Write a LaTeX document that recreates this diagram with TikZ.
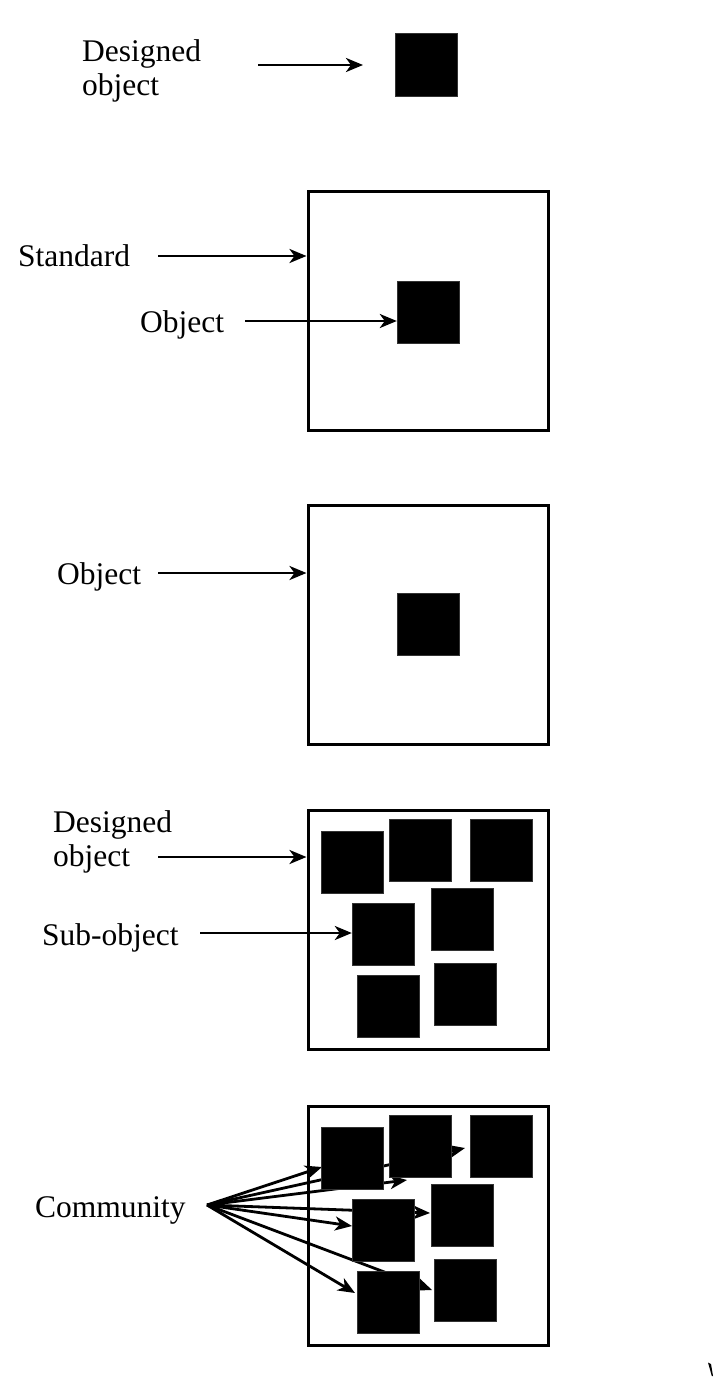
\documentclass[tikz,border=0pt]{standalone}
\usepackage{fontspec}
\setmainfont{Liberation Serif}
\usetikzlibrary{arrows.meta,backgrounds}
\begin{document}
\begin{tikzpicture}[x=1pt,y=-1pt,
  lbl/.style={inner sep=0pt, font=\fontsize{31.5}{34}\selectfont, anchor=base west},
  lbltwo/.style={inner sep=0pt, font=\fontsize{31.5}{34}\selectfont, align=left, anchor=north west},
  frame/.style={draw, line width=3pt, minimum width=240pt, minimum height=239pt, inner sep=0pt},
  sq/.style={fill=black, draw=black!80, line width=0.4pt, minimum width=62pt, minimum height=62pt, inner sep=0pt},
  arr/.style={line width=2.8pt, -{Stealth[length=17pt,width=14pt,inset=5pt]}}]
\useasboundingbox (0,0) rectangle (713,1378);

% --- designed object on its own
\node[lbltwo] (l1) at (82,39.5) {Designed\\object};
\node[sq, minimum height=63pt] (s1) at (426,64.5) {};
\coordinate (a1) at (258,65);
\coordinate (t1) at (363,65);
\draw[arr] (a1) -- (t1);

% --- standard around an object
\node[frame] (f2) at (428,311) {};
\node[sq] (s2) at (428,312) {};
\node[lbl] (l2a) at (18,266) {Standard};
\node[lbl] (l2b) at (140,332) {Object};
\coordinate (a2a) at (158,256);
\coordinate (a2b) at (245,321);
\draw[arr] (a2a) -- (a2a -| f2.west);
\draw[arr] (a2b) -- (a2b -| s2.west);

% --- object seen as a whole
\node[frame] (f3) at (428,624.5) {};
\node[sq] (s3) at (428,624) {};
\node[lbl] (l3) at (57,584) {Object};
\coordinate (a3) at (158,573);
\draw[arr] (a3) -- (a3 -| f3.west);

% --- designed object made of sub-objects
\node[frame] (f4) at (428,929.5) {};
\node[sq] (A4) at (352,862) {};
\node[sq] (B4) at (420.5,850.5) {};
\node[sq] (C4) at (501,850.5) {};
\node[sq] (D4) at (462.5,919.5) {};
\node[sq] (E4) at (383,934.5) {};
\node[sq] (F4) at (465.5,994) {};
\node[sq] (G4) at (388,1006) {};
\node[lbltwo] (l4a) at (53,810.5) {Designed\\object};
\node[lbl] (l4b) at (42,945) {Sub-object};
\coordinate (a4a) at (158,857);
\coordinate (a4b) at (200,933);
\draw[arr] (a4a) -- (a4a -| f4.west);
\draw[arr] (a4b) -- (a4b -| E4.west);

% --- community of sub-objects
\node[frame] (f5) at (428,1226) {};
\node[sq] (A5) at (352,1158) {};
\node[sq] (B5) at (420.5,1146.5) {};
\node[sq] (C5) at (501,1146.5) {};
\node[sq] (D5) at (462.5,1215.5) {};
\node[sq] (E5) at (383,1230.5) {};
\node[sq] (F5) at (465.5,1290) {};
\node[sq] (G5) at (388,1302) {};
\node[lbl] (l5) at (35,1217) {Community};
\coordinate (hub) at (207,1205);
\coordinate (c1) at (322,1167);
\coordinate (c2) at (465,1148);
\coordinate (c3) at (407,1180);
\coordinate (c4) at (430,1213);
\coordinate (c5) at (352,1226);
\coordinate (c6) at (432,1290);
\coordinate (c7) at (355,1293);
\begin{scope}[on background layer]
  \foreach \t in {c1,c2,c3,c4,c5,c6,c7}
    \draw[arr] (hub) -- (\t);
\end{scope}

% --- small mark in the lower right corner
\fill (708,1362.5) -- (711,1364) -- (713,1376) -- (711.8,1376) -- cycle;
\end{tikzpicture}
\end{document}
